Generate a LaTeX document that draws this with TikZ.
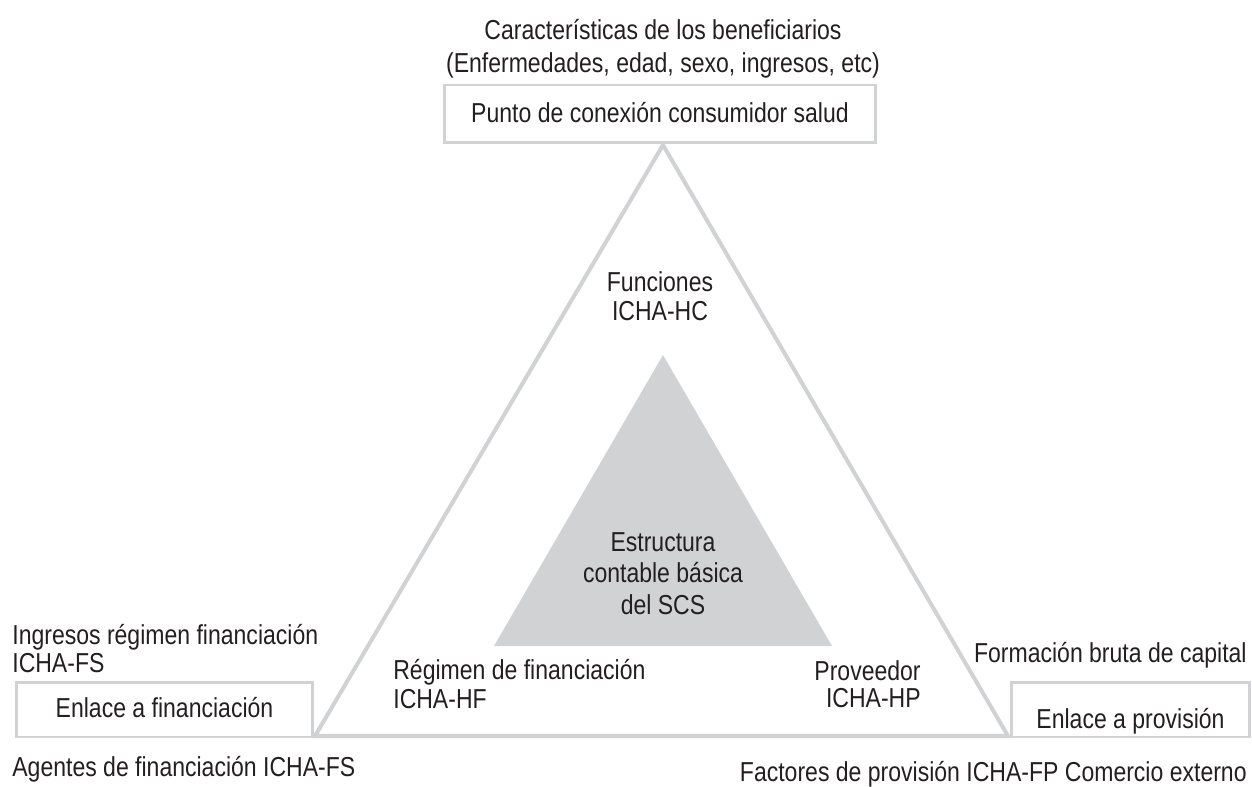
\documentclass[tikz,border=0pt]{standalone}
\usepackage{fontspec}
\setmainfont[FakeStretch=0.84]{Liberation Sans}
\definecolor{lg}{RGB}{209,210,212}
\definecolor{tx}{RGB}{35,31,32}
\begin{document}
\begin{tikzpicture}[x=0.02cm,y=-0.02cm,
  txt/.style={inner sep=0pt, text height=11.2pt, text depth=0pt,
    font=\fontsize{15.6}{17}\selectfont, text=tx},
  boxn/.style={draw=lg, line width=1.7pt, inner sep=0pt, minimum height=1.1cm},
  tri/.style={draw=lg, line width=2.3pt, line join=miter}]
\useasboundingbox (0,0) rectangle (1252,787);

% inner triangle
\coordinate (iA) at (663,355);
\coordinate (iL) at (494,646);
\coordinate (iR) at (832,646);
\fill[lg] (iA) -- (iL) -- (iR) -- cycle;

% outer triangle
\coordinate (oA) at (663,145);
\coordinate (oL) at (315,736);
\coordinate (oR) at (1008,736);
\draw[tri] (oA) -- (oL) -- (oR) -- cycle;

% boxes
\node[boxn, minimum width=8.64cm, minimum height=1.16cm] (topbox) at (660,114) {};
\node[boxn, minimum width=5.94cm] (leftbox) at (164.5,709.5) {};
\node[boxn, minimum width=4.78cm] (rightbox) at (1130.5,709.5) {};

% texts
\node[txt] (car1) at (663,30) {Características de los beneficiarios};
\node[txt] (car2) at (663,63) {(Enfermedades, edad, sexo, ingresos, etc)};
\node[txt] (punto) at (660,113) {Punto de conexión consumidor salud};

\node[txt] (fun1) at (660,282) {Funciones};
\node[txt] (fun2) at (660,311) {ICHA-HC};

\node[txt] (est1) at (663,542) {Estructura};
\node[txt] (est2) at (663,573) {contable básica};
\node[txt] (est3) at (663,605) {del SCS};

\node[txt, anchor=west] (reg1) at (393,670) {Régimen de financiación};
\node[txt, anchor=west] (reg2) at (393,699) {ICHA-HF};

\node[txt, anchor=east] (prov1) at (921,671) {Proveedor};
\node[txt, anchor=east] (prov2) at (921,698) {ICHA-HP};

\node[txt, anchor=west] (ing1) at (12,635) {Ingresos régimen financiación};
\node[txt, anchor=west] (ing2) at (12,663) {ICHA-FS};
\node[txt] (enlf) at (164.5,708) {Enlace a financiación};
\node[txt, anchor=west] (agen) at (12,767) {Agentes de financiación ICHA-FS};

\node[txt, anchor=east] (form) at (1247,653) {Formación bruta de capital};
\node[txt] (enlp) at (1130.5,719) {Enlace a provisión};
\node[txt, anchor=east] (fact) at (1247,772) {Factores de provisión ICHA-FP Comercio externo};
\end{tikzpicture}
\end{document}
